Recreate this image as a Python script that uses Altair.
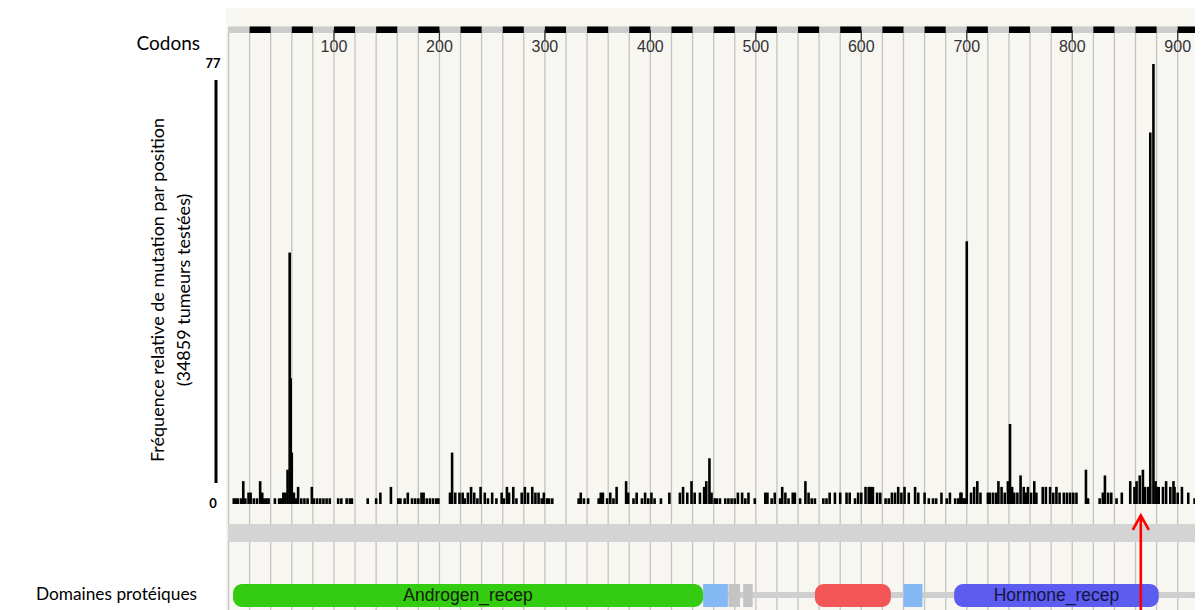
import altair as alt
import pandas as pd

# ---- data (codon position, number of mutations) ----
mutations_nterm = [
    (5, 1), (7, 1), (9, 1), (12, 1), (14, 4), (16, 1), (19, 2), (21, 2), (24, 1), (27, 1),
    (30, 4), (32, 2), (34, 1), (36, 1), (38, 1), (44, 1), (48, 1), (50, 1), (52, 2), (54, 2),
    (56, 6), (58, 44), (59, 22), (60, 9), (62, 2), (64, 1), (66, 3), (69, 1), (72, 1), (75, 1),
    (79, 3), (81, 1), (84, 1), (87, 1), (90, 1), (93, 1), (96, 1), (104, 1), (107, 1), (112, 1),
    (115, 1), (117, 1), (132, 1), (140, 1), (144, 2), (154, 3), (161, 1), (163, 1), (167, 1),
    (170, 2), (174, 1), (177, 1), (180, 1), (183, 2), (185, 2), (188, 1), (191, 1), (194, 1),
    (197, 1), (199, 1), (210, 2), (212, 9), (215, 2), (219, 2), (222, 2), (224, 1), (227, 2),
]
mutations_mid = [
    (230, 3), (233, 2), (236, 1), (239, 3), (243, 2), (246, 1), (250, 2), (254, 1), (259, 2),
    (261, 1), (264, 3), (266, 2), (270, 3), (273, 1), (278, 2), (281, 3), (284, 2), (288, 3),
    (291, 2), (294, 2), (297, 1), (299, 2), (302, 1), (304, 1), (307, 1), (332, 1), (334, 2),
    (337, 1), (341, 1), (351, 1), (353, 2), (355, 2), (359, 1), (362, 2), (365, 1), (368, 3),
    (377, 4), (379, 2), (384, 1), (387, 2), (392, 1), (395, 2), (398, 1), (401, 2), (404, 1),
    (410, 1), (418, 2), (428, 2), (431, 3), (435, 2), (439, 4), (442, 2), (447, 2), (451, 3),
    (453, 4), (456, 8), (458, 2), (461, 1),
]
mutations_dbd = [
    (463, 1), (466, 1), (471, 1), (474, 1), (477, 1), (480, 1), (483, 2), (487, 2), (490, 1),
    (493, 2), (499, 1), (509, 2), (511, 2), (515, 1), (518, 2), (523, 1), (525, 3), (528, 2),
    (531, 1), (535, 2), (537, 2), (542, 1), (547, 4), (550, 2), (553, 1), (556, 1), (564, 1),
    (567, 1), (570, 2), (575, 2), (580, 2), (586, 2), (589, 2), (594, 1), (597, 2), (600, 2),
    (604, 3), (607, 3), (609, 3), (611, 3), (615, 2), (618, 2), (623, 1), (626, 1), (629, 2),
    (632, 2), (635, 3), (638, 2), (641, 3), (645, 2), (651, 3), (654, 2), (660, 2), (664, 1),
    (668, 1), (671, 1), (676, 2), (681, 1), (684, 2), (689, 1), (694, 2), (697, 1),
]
mutations_lbd = [
    (692, 1), (695, 2), (698, 1), (700, 46), (704, 2), (707, 3), (710, 4), (713, 2), (720, 2),
    (722, 2), (725, 2), (728, 2), (730, 4), (733, 3), (736, 2), (739, 4), (741, 14), (743, 3),
    (745, 2), (748, 2), (751, 5), (754, 3), (756, 2), (758, 3), (761, 2), (764, 4), (766, 2),
    (772, 3), (775, 3), (779, 3), (782, 2), (785, 3), (788, 2), (792, 2), (795, 2), (798, 2),
    (801, 2), (804, 2), (813, 6), (815, 1), (826, 1), (829, 2), (831, 5), (834, 2), (837, 2),
    (842, 1), (847, 2), (855, 4), (859, 3), (861, 4), (864, 5), (867, 6), (869, 3), (872, 3),
    (874, 65), (877, 77), (879, 4), (880, 3), (882, 3), (886, 3), (889, 4), (893, 3), (896, 4),
    (897, 3), (900, 2), (904, 3), (910, 2), (916, 1), (922, 1),
]

y_max = 77
tick_codons = [100, 200, 300, 400, 500, 600, 700, 800, 900]
grid_codons = list(range(0, 921, 20))
strip_starts = list(range(20, 901, 40))

domain_names = ["Androgen_recep", "", "", "", "", "", "Hormone_recep"]
domain_kinds = ["Androgen_recep", "linker", "gap", "gap", "zf-C4", "linker", "Hormone_recep"]
domain_starts = [4.3, 450, 474, 488, 556, 640, 688]
domain_ends = [450, 473.5, 485, 497, 628, 658, 882]
domain_rounded = [True, False, False, False, True, False, True]
protein_start = 4.3
arrow_codon = 865

title_line1 = "Fréquence relative de mutation par position"
title_line2 = "(34859 tumeurs testées)"

# ---- tables ----
muts = mutations_nterm + mutations_mid + mutations_dbd + mutations_lbd
bar_df = pd.DataFrame(muts, columns=["codon", "count"])
tick_df = pd.DataFrame({"codon": tick_codons, "label": [str(t) for t in tick_codons]})
grid_df = pd.DataFrame({"codon": grid_codons})
strip_df = pd.DataFrame({"start": strip_starts, "end": [s + 20 for s in strip_starts]})

fill_of = {"Androgen_recep": "#33cc11", "linker": "#85b9f4", "gap": "#c4c4c4",
           "zf-C4": "#f25656", "Hormone_recep": "#5c5cf0"}
text_of = {"Androgen_recep": "#152010", "Hormone_recep": "#141440"}
dom_df = pd.DataFrame({"name": domain_names, "kind": domain_kinds, "start": domain_starts,
                       "end": domain_ends, "rounded": domain_rounded})
dom_df["fill"] = dom_df["kind"].map(fill_of)
dom_df["tcol"] = dom_df["kind"].map(text_of).fillna("#000000")
dom_df["mid"] = (dom_df["start"] + dom_df["end"]) / 2
one = pd.DataFrame({"k": [0]})
arrow_df = pd.DataFrame({"codon": [arrow_codon]})
protein_df = pd.DataFrame({"start": [protein_start]})
yl_df = pd.DataFrame({"v": [0, y_max], "label": ["0", str(y_max)], "dy": [-6.5, 2.5]})

W, H = 1187, 602
X = alt.Scale(domain=[0, 920], range=[220.5, 1190.8], nice=False, zero=False)
Y = alt.Scale(domain=[0, y_max], range=[496, 56], nice=False, zero=True)

bg = alt.Chart(one).mark_rect(color="#f7f6f1").encode(
    x=alt.value(218), x2=alt.value(W), y=alt.value(0), y2=alt.value(H))

grid = alt.Chart(grid_df).mark_rule(color="#c3c3c3", strokeWidth=1.3).encode(
    x=alt.X("codon:Q", scale=X, axis=None), y=alt.value(25), y2=alt.value(H))

strip = alt.Chart(one).mark_rect(color="#cccccc").encode(
    x=alt.value(220), x2=alt.value(W), y=alt.value(18.5), y2=alt.value(25))

segs = alt.Chart(strip_df).mark_rect(color="black").encode(
    x=alt.X("start:Q", scale=X, axis=None), x2="end:Q", y=alt.value(18.5), y2=alt.value(25))

ticks = alt.Chart(tick_df).mark_rule(color="#333333", strokeWidth=1.2).encode(
    x=alt.X("codon:Q", scale=X, axis=None), y=alt.value(22), y2=alt.value(32))

tick_labels = alt.Chart(tick_df).mark_text(
    font="Liberation Sans", fontSize=16, color="#333333", baseline="middle", align="center"
).encode(x=alt.X("codon:Q", scale=X, axis=None), y=alt.value(39), text="label:N")

bars = alt.Chart(bar_df).mark_rule(color="black", strokeWidth=2.6).encode(
    x=alt.X("codon:Q", scale=X, axis=None),
    y=alt.Y("count:Q", scale=Y, axis=None),
    y2=alt.datum(0))

band = alt.Chart(one).mark_rect(color="#d4d4d4").encode(
    x=alt.value(220), x2=alt.value(W), y=alt.value(516), y2=alt.value(534))

backbone = alt.Chart(protein_df).mark_rule(color="#cfcfcf", strokeWidth=6).encode(
    x=alt.X("start:Q", scale=X, axis=None), x2=alt.value(W), y=alt.value(587))

dom_round = alt.Chart(dom_df).transform_filter("datum.rounded").mark_rect(cornerRadius=9).encode(
    x=alt.X("start:Q", scale=X, axis=None), x2="end:Q",
    y=alt.value(576), y2=alt.value(599), fill=alt.Fill("fill:N", scale=None))

dom_square = alt.Chart(dom_df).transform_filter("!datum.rounded").mark_rect().encode(
    x=alt.X("start:Q", scale=X, axis=None), x2="end:Q",
    y=alt.value(576), y2=alt.value(599), fill=alt.Fill("fill:N", scale=None))

dom_text = alt.Chart(dom_df).transform_filter("datum.name != ''").mark_text(
    font="Liberation Sans", fontSize=17.5, baseline="middle", align="center"
).encode(x=alt.X("mid:Q", scale=X, axis=None), y=alt.value(588), text="name:N",
         color=alt.Color("tcol:N", scale=None))

arrow_line = alt.Chart(arrow_df).mark_rule(color="#ff0000", strokeWidth=2.6).encode(
    x=alt.X("codon:Q", scale=X, axis=None), y=alt.value(508), y2=alt.value(H))

arrow_head = alt.Chart(arrow_df).mark_point(
    shape="M-1,1.8L0,0L1,1.8", size=256, filled=False, stroke="#ff0000", strokeWidth=2.6, opacity=1
).encode(x=alt.X("codon:Q", scale=X, axis=None), y=alt.value(507.5))

yaxis_line = alt.Chart(one).mark_rule(color="black", strokeWidth=3).encode(
    x=alt.value(208), y=alt.value(72), y2=alt.value(475))

yaxis_labels = alt.Chart(yl_df).mark_text(
    font="Lato", fontSize=13, fontWeight="bold", color="black", baseline="middle", align="center"
).encode(x=alt.value(205), y=alt.Y("v:Q", scale=Y, axis=None), yOffset=alt.YOffset("dy:Q", scale=None),
         text="label:N")

left_font = "Lato"
codons_txt = alt.Chart(one).mark_text(
    text="Codons", font=left_font, fontSize=19, color="black", align="right", baseline="middle"
).encode(x=alt.value(192), y=alt.value(36))

domaines_txt = alt.Chart(one).mark_text(
    text="Domaines protéiques", font=left_font, fontSize=17.3, color="black", align="right",
    baseline="middle"
).encode(x=alt.value(189), y=alt.value(587))

ytitle1 = alt.Chart(one).mark_text(
    text=title_line1, font=left_font, fontSize=18, color="black", angle=270,
    align="center", baseline="middle"
).encode(x=alt.value(151), y=alt.value(282))

ytitle2 = alt.Chart(one).mark_text(
    text=title_line2, font=left_font, fontSize=18, color="black", angle=270,
    align="center", baseline="middle"
).encode(x=alt.value(177), y=alt.value(282))

chart = alt.layer(
    bg, grid, strip, segs, ticks, tick_labels, bars, band, backbone, dom_square, dom_round,
    dom_text, arrow_line, arrow_head, yaxis_line, yaxis_labels, codons_txt, domaines_txt,
    ytitle1, ytitle2
).properties(
    width=W, height=H, padding=0, autosize="none", background="white"
).configure_view(strokeWidth=0)

chart.save("out.html", embed_options={"renderer": "svg", "actions": False})
